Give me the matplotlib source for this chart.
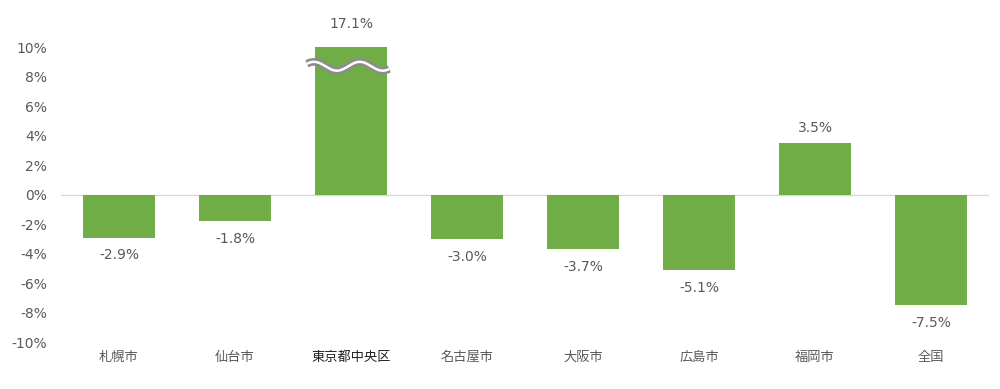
import matplotlib.pyplot as plt
import numpy as np

plt.rcParams['font.family'] = ['Noto Sans CJK JP', 'DejaVu Sans']

# data
cities = ['札幌市', '仙台市', '東京都中央区', '名古屋市', '大阪市', '広島市', '福岡市', '全国']
values = [-2.9, -1.8, 17.1, -3.0, -3.7, -5.1, 3.5, -7.5]
y_ticks = [-10, -8, -6, -4, -2, 0, 2, 4, 6, 8, 10]
cap = 10  # axis max; bars above are cut with a break mark

green = '#70AD47'
gray = '#595959'

fig = plt.figure(figsize=(10, 3.89), dpi=100)
ax = fig.add_axes([0.061, 0.12, 0.928, 0.759])

x = np.arange(len(cities))
shown = [min(v, cap) for v in values]
ax.bar(x, shown, width=0.62, color=green, zorder=2)

ax.set_xlim(-0.5, len(cities) - 0.5)
ax.set_ylim(-10, 10)
ax.set_yticks(y_ticks)
ax.set_yticklabels([f'{t}%' for t in y_ticks], color=gray, fontsize=10,
                   family='DejaVu Sans')
ax.set_xticks(x)
ax.set_xticklabels(cities, fontsize=9.5, color=gray)
ax.get_xticklabels()[2].set_color('#222222')
ax.tick_params(length=0, pad=6)
ax.tick_params(axis='y', pad=10)
for s in ax.spines.values():
    s.set_visible(False)
ax.axhline(0, color='#D9D9D9', lw=1, zorder=1)

# data labels
for i, v in enumerate(values):
    if v > cap:
        y = cap + 1.55
    elif v >= 0:
        y = v + 1.0
    else:
        y = v - 1.2
    ax.text(i, y, f'{v:.1f}%', ha='center', va='center', fontsize=10, color=gray,
            family='DejaVu Sans', clip_on=False)

# break mark on capped bar
for i, v in enumerate(values):
    if v > cap:
        wx = np.linspace(i - 0.38, i + 0.33, 200)
        wy = 8.7 + 0.3 * np.sin((wx - (i - 0.38)) / 0.71 * 2 * np.pi * 1.8 + 0.6)
        ax.plot(wx, wy, color='#8C8C8C', lw=5.5, solid_capstyle='butt', zorder=3, clip_on=False)
        ax.plot(wx, wy, color='white', lw=1.8, solid_capstyle='butt', zorder=4, clip_on=False)

fig.savefig('out.png', dpi=100)
